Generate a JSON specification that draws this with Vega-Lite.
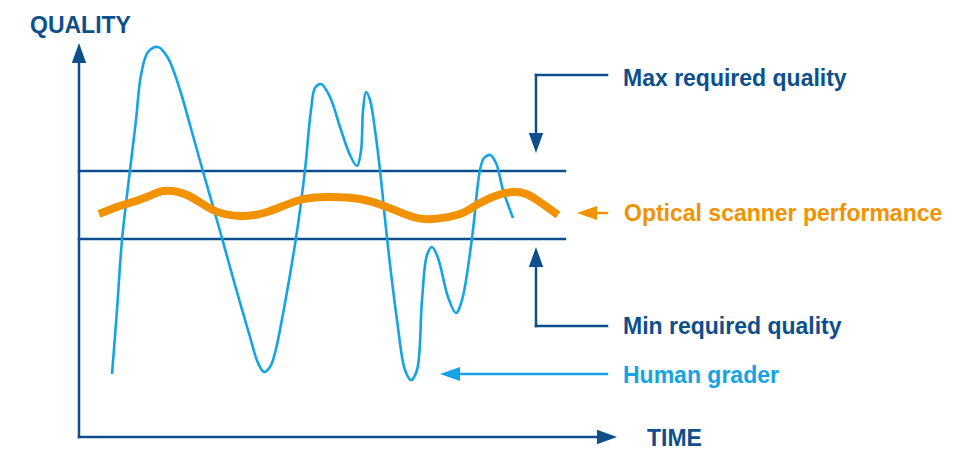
{
  "$schema": "https://vega.github.io/schema/vega-lite/v6.json",
  "width": 955,
  "height": 451,
  "autosize": {"type": "fit", "contains": "padding"},
  "padding": 0,
  "background": "white",
  "config": {"view": {"stroke": null}},
  "datasets": {
    "segments": [
      {"x": 79, "q": 14, "x2": 79, "q2": 390, "kind": "guide"},
      {"x": 79, "q": 14, "x2": 598, "q2": 14, "kind": "guide"},
      {"x": 79, "q": 280, "x2": 565, "q2": 280, "kind": "guide"},
      {"x": 79, "q": 212, "x2": 565, "q2": 212, "kind": "guide"},
      {"x": 607, "q": 376, "x2": 536, "q2": 376, "kind": "guide"},
      {"x": 536, "q": 376, "x2": 536, "q2": 315, "kind": "guide"},
      {"x": 607, "q": 125, "x2": 536, "q2": 125, "kind": "guide"},
      {"x": 536, "q": 125, "x2": 536, "q2": 187, "kind": "guide"},
      {"x": 607, "q": 238, "x2": 594, "q2": 238, "kind": "scanner"},
      {"x": 607, "q": 77, "x2": 457, "q2": 77, "kind": "human"}
    ],
    "heads": [
      {"x": 79, "q": 398, "dir": "up", "kind": "guide"},
      {"x": 607, "q": 14, "dir": "right", "kind": "guide"},
      {"x": 536, "q": 308, "dir": "down", "kind": "guide"},
      {"x": 536, "q": 194, "dir": "up", "kind": "guide"},
      {"x": 587, "q": 238, "dir": "left", "kind": "scanner"},
      {"x": 450, "q": 77, "dir": "left", "kind": "human"}
    ],
    "human": [
      {"x": 112, "q": 77}, {"x": 117, "q": 141}, {"x": 122, "q": 211}, {"x": 130, "q": 281},
      {"x": 136, "q": 331}, {"x": 141, "q": 376}, {"x": 148, "q": 399}, {"x": 158, "q": 404},
      {"x": 168, "q": 393}, {"x": 180, "q": 361}, {"x": 190, "q": 326}, {"x": 202, "q": 283},
      {"x": 220, "q": 220}, {"x": 235, "q": 166}, {"x": 250, "q": 114}, {"x": 258, "q": 88},
      {"x": 264, "q": 79}, {"x": 270, "q": 84}, {"x": 275, "q": 98}, {"x": 285, "q": 148},
      {"x": 296, "q": 213}, {"x": 300, "q": 241}, {"x": 305, "q": 281}, {"x": 311, "q": 341},
      {"x": 315, "q": 363}, {"x": 321, "q": 367}, {"x": 330, "q": 354}, {"x": 340, "q": 324},
      {"x": 350, "q": 296}, {"x": 357, "q": 285}, {"x": 361, "q": 300}, {"x": 363, "q": 340},
      {"x": 366, "q": 359}, {"x": 370, "q": 351}, {"x": 375, "q": 321}, {"x": 380, "q": 281},
      {"x": 387, "q": 213}, {"x": 397, "q": 131}, {"x": 405, "q": 81}, {"x": 411, "q": 71},
      {"x": 417, "q": 81}, {"x": 422, "q": 151}, {"x": 427, "q": 196}, {"x": 432, "q": 204},
      {"x": 438, "q": 193}, {"x": 448, "q": 154}, {"x": 456, "q": 138}, {"x": 462, "q": 151},
      {"x": 472, "q": 213}, {"x": 480, "q": 281}, {"x": 484, "q": 293}, {"x": 490, "q": 296},
      {"x": 496, "q": 288}, {"x": 503, "q": 261}, {"x": 513, "q": 233}
    ],
    "scanner": [
      {"x": 99, "q": 237}, {"x": 120, "q": 245}, {"x": 147, "q": 254}, {"x": 163, "q": 260},
      {"x": 187, "q": 256}, {"x": 213, "q": 241}, {"x": 240, "q": 235}, {"x": 267, "q": 239},
      {"x": 300, "q": 251}, {"x": 330, "q": 254}, {"x": 360, "q": 252}, {"x": 387, "q": 244},
      {"x": 413, "q": 234}, {"x": 433, "q": 232}, {"x": 460, "q": 237}, {"x": 480, "q": 248},
      {"x": 513, "q": 259}, {"x": 537, "q": 251}, {"x": 558, "q": 236}
    ],
    "labels": [
      {"x": 30, "q": 425, "label": "QUALITY", "kind": "guide"},
      {"x": 647, "q": 12, "label": "TIME", "kind": "guide"},
      {"x": 623, "q": 372, "label": "Max required quality", "kind": "guide"},
      {"x": 624, "q": 237, "label": "Optical scanner performance", "kind": "scanner"},
      {"x": 623, "q": 124, "label": "Min required quality", "kind": "guide"},
      {"x": 623, "q": 75, "label": "Human grader", "kind": "human"}
    ]
  },
  "encoding": {
    "x": {"field": "x", "type": "quantitative", "axis": null, "scale": {"domain": [0, 955], "nice": false, "zero": false}},
    "y": {"field": "q", "type": "quantitative", "axis": null, "scale": {"domain": [0, 451], "nice": false, "zero": false}}
  },
  "layer": [
    {
      "data": {"name": "segments"},
      "mark": {"type": "rule", "strokeWidth": 2.5, "strokeCap": "square"},
      "encoding": {
        "x2": {"field": "x2"},
        "y2": {"field": "q2"},
        "color": {"field": "kind", "type": "nominal", "legend": null,
          "scale": {"domain": ["guide", "scanner", "human"], "range": ["#0d4f8b", "#f39200", "#14a4e6"]}}
      }
    },
    {
      "data": {"name": "heads"},
      "mark": {"type": "point", "filled": true, "opacity": 1, "size": 400, "strokeWidth": 0},
      "encoding": {
        "shape": {"field": "dir", "type": "nominal", "legend": null,
          "scale": {"domain": ["up", "down", "left", "right"],
            "range": ["M0,-1L-0.72,1L0.72,1Z", "M0,1L-0.72,-1L0.72,-1Z", "M-1,0L1,-0.7L1,0.7Z", "M1,0L-1,-0.72L-1,0.72Z"]}},
        "color": {"field": "kind", "type": "nominal", "legend": null}
      }
    },
    {
      "data": {"name": "human"},
      "mark": {"type": "line", "interpolate": "catmull-rom", "color": "#14a4e6", "strokeWidth": 2.6},
      "encoding": {}
    },
    {
      "data": {"name": "scanner"},
      "mark": {"type": "line", "interpolate": "natural", "color": "#f39200", "strokeWidth": 8, "strokeCap": "butt"},
      "encoding": {}
    },
    {
      "data": {"name": "labels"},
      "mark": {"type": "text", "align": "left", "baseline": "middle", "font": "Liberation Sans", "fontWeight": "bold", "fontSize": 23},
      "encoding": {
        "text": {"field": "label"},
        "color": {"field": "kind", "type": "nominal", "legend": null}
      }
    }
  ]
}
